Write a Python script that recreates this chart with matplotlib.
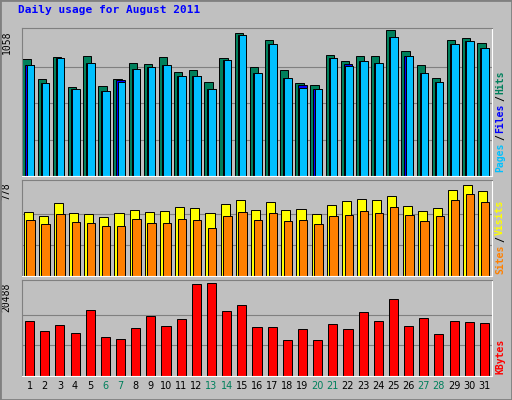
import matplotlib
matplotlib.use("Agg")
import matplotlib.pyplot as plt
from matplotlib.patches import Rectangle
import numpy as np

days = list(range(1, 32))
weekend = [6, 7, 13, 14, 20, 21, 27, 28]
hits = [848,703,863,645,870,653,703,819,812,863,754,769,682,856,1040,790,986,769,674,660,877,834,870,870,1058,906,805,711,986,1000,964]
files = [805,674,856,631,819,616,700,776,790,805,725,725,631,841,1022,747,957,711,660,631,856,815,834,819,1008,870,747,682,957,979,928]
pages = [805,674,856,631,819,616,682,776,790,805,725,725,631,841,1022,747,957,711,638,631,856,798,834,819,1008,870,747,682,957,979,928]
visits = [530,497,604,522,513,489,522,546,530,538,571,563,522,596,629,546,613,546,555,513,588,621,638,629,662,580,538,563,712,753,704]
sites = [464,431,513,447,439,414,414,472,439,439,472,464,397,497,530,464,522,455,464,431,497,505,538,522,571,505,455,497,629,679,613]
kbytes = [12026,9799,11135,9353,14476,8685,8240,10467,13139,10912,12471,20266,20488,14253,15589,10690,10690,8017,10244,8017,11358,10244,14030,12026,16925,10912,12694,9131,12026,11803,11580]

W, H = 512, 400
fig = plt.figure(figsize=(5.12, 4.0), dpi=100, facecolor="#C0C0C0")
fig.patches.append(Rectangle((0, 0), 1, 1, transform=fig.transFigure, fill=False, ec="#808080", lw=2))
fig.text(18/W, 1-10/H, "Daily usage for August 2011", color="#0000FF", family="DejaVu Sans Mono",
         weight="bold", fontsize=8, va="center")

def mkax(top, bot):
    ax = fig.add_axes([22/W, 1-bot/H, 470/W, (bot-top)/H])
    ax.set_facecolor("#C0C0C0")
    for s in ax.spines.values():
        s.set_color("#808080")
    ax.spines["bottom"].set_color("white"); ax.spines["right"].set_color("white")
    ax.set_xlim(0.5, 31.5)
    ax.set_xticks([]); ax.set_yticks([])
    return ax

x = np.array(days, dtype=float)
fs = 7
mono = "DejaVu Sans Mono"

ax1 = mkax(28, 176)
m1 = 1058
ax1.set_ylim(0, m1 / 0.985)
for g in [0.25, 0.5, 0.75]:
    ax1.axhline(m1*g*1.0, color="#808080", lw=0.8, zorder=0)
ax1.bar(x - 0.2, hits, width=0.55, color="#00805C", ec="black", lw=0.7)
ax1.bar(x + 0.0, files, width=0.55, color="#0000FF", ec="black", lw=0.7)
ax1.bar(x + 0.05, pages, width=0.5, color="#00C0FF", ec="black", lw=0.7)
ax1.text(-0.022, 0.985, "1058", transform=ax1.transAxes, rotation=90, ha="right", va="top", fontsize=fs, family=mono)

ax2 = mkax(180, 276)
m2 = 778
ax2.set_ylim(0, m2 / 0.98)
for g in [0.33, 0.66]:
    ax2.axhline(m2*g, color="#808080", lw=0.8, zorder=0)
ax2.bar(x - 0.1, visits, width=0.6, color="#FFFF00", ec="black", lw=0.7)
ax2.bar(x + 0.05, sites, width=0.55, color="#FF8000", ec="black", lw=0.7)
ax2.text(-0.022, 0.98, "778", transform=ax2.transAxes, rotation=90, ha="right", va="top", fontsize=fs, family=mono)

ax3 = mkax(280, 376)
m3 = 20488
ax3.set_ylim(0, m3 / 0.97)
for g in [0.33, 0.66]:
    ax3.axhline(m3*g, color="#808080", lw=0.8, zorder=0)
ax3.bar(x, kbytes, width=0.6, color="#FF0000", ec="black", lw=0.7)
ax3.text(-0.022, 0.97, "20488", transform=ax3.transAxes, rotation=90, ha="right", va="top", fontsize=fs, family=mono)

for d in days:
    ax3.text(d, -0.1, str(d), transform=ax3.get_xaxis_transform(), ha="center", va="center",
             fontsize=fs, color="#00805C" if d in weekend else "black")

def side(pieces, ybottom):
    y = ybottom
    for txt, col in pieces:
        fig.text(500/W, 1-y/H, txt, rotation=90, color=col, ha="center", va="bottom",
                 fontsize=fs, family=mono, weight="bold")
        y -= len(txt) * 6.2 + 1

side([("Pages", "#00C0FF"), ("/", "black"), ("Files", "#0000FF"), ("/", "black"), ("Hits", "#00805C")], 172)
side([("Sites", "#FF8000"), ("/", "black"), ("Visits", "#FFFF00")], 274)
side([("KBytes", "#FF0000")], 374)

fig.savefig("out.png", dpi=100, facecolor=fig.get_facecolor())
